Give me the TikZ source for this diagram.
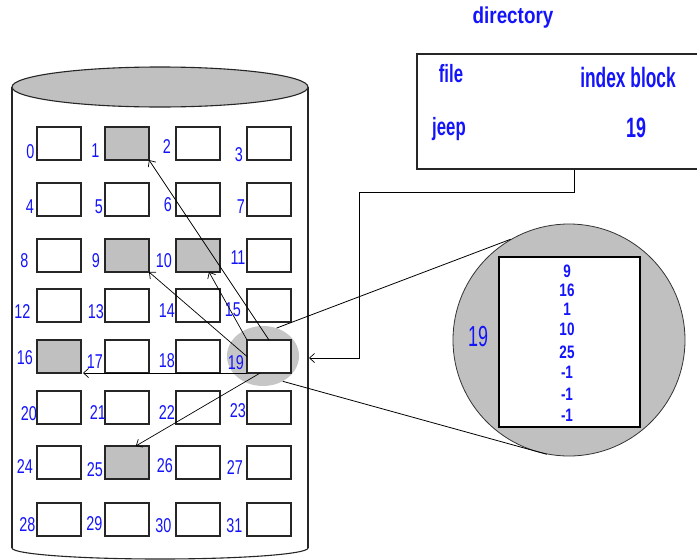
\documentclass[tikz,border=0pt]{standalone}
\usepackage{fontspec}
\setmainfont{Liberation Sans}
\usetikzlibrary{arrows.meta,shapes.geometric,calc}
\definecolor{lblue}{RGB}{20,20,250}
\definecolor{lgray}{RGB}{192,192,192}
\newcommand\nrw[2]{\scalebox{#1}[1]{#2}}
\tikzset{
  boxsq/.style={draw=black!85, line width=1.1pt, minimum width=44pt, minimum height=33pt, inner sep=0pt, outer sep=0pt},
  lbl/.style={text=lblue, inner sep=0pt, font=\fontsize{20}{20}\selectfont},
  btxt/.style={text=lblue, inner sep=0pt},
  conn/.style={draw=black, line width=0.7pt, -{Straight Barb[length=5pt,width=9pt]}},
  thin line/.style={draw=black, line width=0.8pt},
}
\begin{document}
\begin{tikzpicture}[x=1pt,y=-1pt]
\useasboundingbox (0,0) rectangle (697,560);
% cylinder
\draw[line width=1.1pt, black!85] (12,87) -- (12,548) (308,87) -- (308,548);
\begin{scope}
  \clip (0,548) rectangle (697,570);
  \draw[line width=1.1pt, black!85] (160,548) ellipse [x radius=148, y radius=11];
\end{scope}
\node[ellipse, draw=black!85, line width=1.1pt, fill=lgray, minimum width=296pt, minimum height=40pt, inner sep=0pt] (top) at (160,87) {};
% highlight of block 19
\node[ellipse, fill=lgray!90, minimum width=72pt, minimum height=60pt, inner sep=0pt] (hl) at (263,356) {};
% blocks
\foreach \r/\yy in {0/127,1/183,2/239,3/289,4/340,5/391,6/446,7/503}{
  \foreach \c/\xx in {0/37,1/105,2/176,3/247}{
    \pgfmathtruncatemacro\n{4*\r+\c}
    \pgfmathtruncatemacro\sh{(\n==1)||(\n==9)||(\n==10)||(\n==16)||(\n==25)}
    \ifnum\sh=1 \def\boxfill{lgray}\else\def\boxfill{white}\fi
    \node[boxsq, fill=\boxfill] (b\n) at (\xx+22,\yy+16.5) {};
  }
}
% block labels
\foreach \n/\lx/\ly in {0/30.5/152,1/95.5/151,2/167/147,3/239/155,
  4/30/207,5/99/207,6/168/205,7/241/207,
  8/24.5/261,9/96/261,10/164/261,11/238/258,
  12/22.5/312,13/96/312,14/167/311,15/233/310,
  16/25/358,17/95/362,18/167/361,19/236/363,
  20/29/414,21/98/413,22/167/413,23/238/411,
  24/25/467,25/95/470,26/165/466,27/235/468,
  28/27.5/525,29/94.5/524,30/163.5/526,31/234.5/526}{
  \node[lbl] (l\n) at (\lx,\ly) {\nrw{0.72}{\n}};
}
% pointers from index block 19
\draw[conn] (b19.north) -- (b1.south east);
\draw[conn] (b19.west) -- (b9.south east);
\draw[conn] (b19.north west) -- ($(b10.south)!0.5!(b10.south east)$);
\draw[conn] (b19.south west) -- ($(b16.south east)+(2,0)$);
\draw[conn] ($(b19.south west)!0.3!(b19.south east)$) -- ($(b25.north)!0.4!(b25.north east)$);
% magnified block
\node[circle, draw=black!80, line width=0.8pt, fill=lgray, minimum size=232pt, inner sep=0pt] (bigc) at (569,340) {};
\draw[thin line] (hl.64) -- (bigc.120.5);
\draw[thin line] (hl.-52) -- (bigc.-101);
\node[draw=black, line width=1.3pt, fill=white, minimum width=141pt, minimum height=170pt, inner sep=0pt] (idx) at (569.5,342) {};
\node[btxt, font=\fontsize{29}{29}\selectfont] (n19) at (478,336.5) {\nrw{0.62}{19}};
\foreach \v/\vy [count=\i] in {9/271,16/290,1/309,10/329,25/352,-1/372,-1/394,-1/415}{
  \node[btxt, font=\fontsize{18}{18}\selectfont\bfseries] (e\i) at (567,\vy) {\nrw{0.75}{\v}};
}
% directory
\node[btxt, font=\fontsize{23}{23}\selectfont\bfseries] (dtitle) at (513,18) {\nrw{0.82}{directory}};
\node[draw=black!85, line width=1.1pt, minimum width=303pt, minimum height=115pt, inner sep=0pt] (dir) at (568.5,111.5) {};
\node[btxt, font=\fontsize{25}{25}\selectfont\bfseries] (dfile) at (451,74) {\nrw{0.67}{file}};
\node[btxt, font=\fontsize{28}{28}\selectfont\bfseries] (dindex) at (628,77.5) {\nrw{0.62}{index block}};
\node[btxt, font=\fontsize{25}{25}\selectfont\bfseries] (djeep) at (449,129) {\nrw{0.67}{jeep}};
\node[btxt, font=\fontsize{28}{28}\selectfont\bfseries] (d19) at (636,128) {\nrw{0.64}{19}};
\coordinate (k1) at (359,192);
\coordinate (ktgt) at (309,358);
\draw[conn] ($(dir.south west)!0.518!(dir.south east)$) |- (k1) |- (ktgt);
\end{tikzpicture}
\end{document}
